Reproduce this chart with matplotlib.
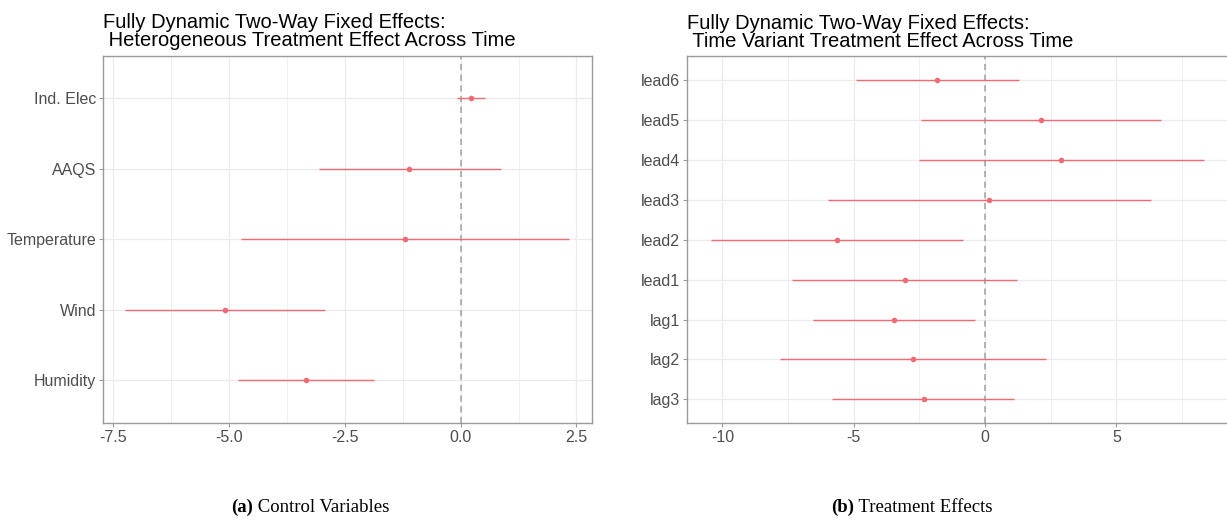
import matplotlib.pyplot as plt
from matplotlib.ticker import MultipleLocator

plt.rcParams['font.family'] = ['Liberation Sans', 'DejaVu Sans']

# (a) control variables, top to bottom
ctrl_names = ["Ind. Elec", "AAQS", "Temperature", "Wind", "Humidity"]
ctrl_est = [0.22, -1.11, -1.20, -5.09, -3.34]
ctrl_lo = [-0.08, -3.06, -4.75, -7.25, -4.80]
ctrl_hi = [0.52, 0.87, 2.34, -2.92, -1.87]

# (b) treatment effects, top to bottom
treat_names = ["lead6", "lead5", "lead4", "lead3", "lead2", "lead1", "lag1", "lag2", "lag3"]
treat_est = [-1.83, 2.13, 2.90, 0.15, -5.63, -3.06, -3.48, -2.76, -2.34]
treat_lo = [-4.92, -2.45, -2.52, -5.98, -10.42, -7.34, -6.55, -7.82, -5.83]
treat_hi = [1.28, 6.68, 8.32, 6.32, -0.83, 1.23, -0.39, 2.31, 1.11]

RED = "#EE6B74"
GRID = "#EBEBEB"
BORDER = "#9A9A9A"
TXT = "#4D4D4D"


def coef_panel(ax, names, est, lo, hi, major, minor, xlim, fmt, title):
    n = len(names)
    ys = list(range(n, 0, -1))
    ax.set_xlim(*xlim)
    ax.set_ylim(0.4, n + 0.6)
    ax.xaxis.set_major_locator(MultipleLocator(major))
    ax.xaxis.set_minor_locator(MultipleLocator(minor))
    ax.set_yticks(ys)
    ax.set_yticklabels(names)
    ax.xaxis.set_major_formatter(plt.FuncFormatter(lambda v, p: fmt.format(v)))
    ax.grid(True, which="major", color=GRID, lw=0.9)
    ax.grid(True, which="minor", axis="x", color=GRID, lw=0.5)
    ax.set_axisbelow(True)
    ax.axvline(0, color="#A0A0A0", ls=(0, (4, 3)), lw=1.1, zorder=1)
    ax.hlines(ys, lo, hi, color=RED, lw=1.0, zorder=3)
    ax.plot(est, ys, "o", color=RED, ms=3, zorder=4)
    for s in ax.spines.values():
        s.set_color(BORDER)
        s.set_linewidth(1.0)
    ax.tick_params(which="major", length=3, color=BORDER, labelcolor=TXT, labelsize=11.5, pad=2)
    ax.tick_params(which="minor", length=0)
    ax.set_title(title, loc="left", fontsize=14.5, color="black", pad=7, linespacing=0.9)


fig = plt.figure(figsize=(12.27, 5.21), dpi=100)
ax1 = fig.add_axes([0.0842, 0.1887, 0.398, 0.7044])
ax2 = fig.add_axes([0.5601, 0.1875, 0.4405, 0.7044])

coef_panel(ax1, ctrl_names, ctrl_est, ctrl_lo, ctrl_hi, 2.5, 1.25, (-7.72, 2.83), "{:.1f}",
           "Fully Dynamic Two-Way Fixed Effects:\n Heterogeneous Treatment Effect Across Time")
coef_panel(ax2, treat_names, treat_est, treat_lo, treat_hi, 5, 2.5, (-11.34, 9.24), "{:.0f}",
           "Fully Dynamic Two-Way Fixed Effects:\n Time Variant Treatment Effect Across Time")
ax2.spines["right"].set_visible(False)

# sub-figure captions: bold label followed by plain text
for x, lab, txt in [(0.188, "(a)", " Control Variables"), (0.677, "(b)", " Treatment Effects")]:
    t = fig.text(x, 0.017, lab, weight="bold", family="Liberation Serif", fontsize=13.5,
                 ha="left", va="baseline")
    plt.annotate(txt, xy=(1, 0), xycoords=t, va="bottom", ha="left",
                 family="Liberation Serif", fontsize=13.5, annotation_clip=False)

fig.savefig("out.png", dpi=100)
